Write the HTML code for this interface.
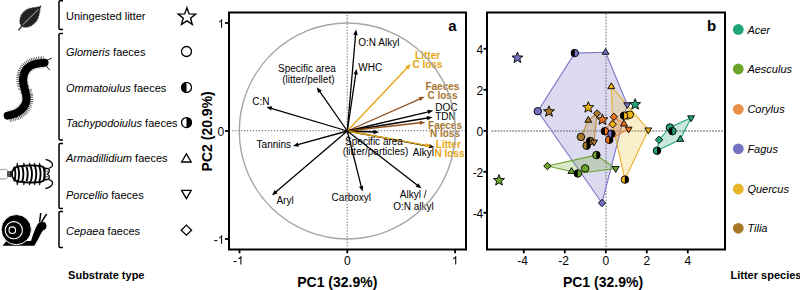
<!DOCTYPE html><html><head><meta charset="utf-8"><style>html,body{margin:0;padding:0;background:#fff;}svg{display:block;}text{font-family:"Liberation Sans", sans-serif;}</style></head><body>
<svg width="800" height="290" viewBox="0 0 800 290">
<rect width="800" height="290" fill="#fff"/>
<path d="M63,0.8 H60.2 Q59,0.8 59,2.0 V28.3 Q59,29.5 60.2,29.5 H63" fill="none" stroke="#000" stroke-width="1.5"/>
<path d="M63,33.5 H60.2 Q59,33.5 59,34.7 V138.8 Q59,140 60.2,140 H63" fill="none" stroke="#000" stroke-width="1.5"/>
<path d="M63,143.5 H60.2 Q59,143.5 59,144.7 V207.3 Q59,208.5 60.2,208.5 H63" fill="none" stroke="#000" stroke-width="1.5"/>
<path d="M63,211.5 H60.2 Q59,211.5 59,212.7 V246.3 Q59,247.5 60.2,247.5 H63" fill="none" stroke="#000" stroke-width="1.5"/>
<text x="66" y="20" font-size="11">Uningested litter</text>
<text x="66" y="56" font-size="11"><tspan font-style="italic">Glomeris</tspan> faeces</text>
<text x="66" y="91.7" font-size="11"><tspan font-style="italic">Ommatoiulus</tspan> faeces</text>
<text x="66" y="127.4" font-size="11"><tspan font-style="italic">Tachypodoiulus</tspan> faeces</text>
<text x="66" y="161.9" font-size="11"><tspan font-style="italic">Armadillidium</tspan> faeces</text>
<text x="66" y="199" font-size="11"><tspan font-style="italic">Porcellio</tspan> faeces</text>
<text x="66" y="235" font-size="11"><tspan font-style="italic">Cepaea</tspan> faeces</text>
<polygon points="186.90,7.85 189.16,13.89 195.60,14.17 190.56,18.19 192.28,24.40 186.90,20.85 181.52,24.40 183.24,18.19 178.20,14.17 184.64,13.89" fill="#fff" stroke="#000" stroke-width="1.4" stroke-linejoin="miter"/>
<circle cx="186.5" cy="51.5" r="5" fill="#fff" stroke="#000" stroke-width="1.3"/>
<circle cx="186.5" cy="87.4" r="5" fill="#fff"/>
<path d="M186.5,82.4 A5,5 0 0 0 186.5,92.4 Z" fill="#000"/>
<circle cx="186.5" cy="87.4" r="5" fill="none" stroke="#000" stroke-width="1.3"/>
<circle cx="186.5" cy="122.6" r="5" fill="#fff"/>
<path d="M186.5,117.6 A5,5 0 0 1 186.5,127.6 Z" fill="#000"/>
<circle cx="186.5" cy="122.6" r="5" fill="none" stroke="#000" stroke-width="1.3"/>
<polygon points="186.4,153.8 191.2,162 181.6,162" fill="#fff" stroke="#000" stroke-width="1.3"/>
<polygon points="186.4,198.6 191.2,190.4 181.6,190.4" fill="#fff" stroke="#000" stroke-width="1.3"/>
<polygon points="186.4,225.1 191.6,230.2 186.4,235.2 181.2,230.2" fill="#fff" stroke="#000" stroke-width="1.3"/>
<text x="106.3" y="278.5" font-size="11" font-weight="bold" text-anchor="middle">Substrate type</text>
<path d="M40.6,6.3 C36,8 30.5,7.4 26.2,10 C21.8,12.8 19.4,18 19.9,22.4 C20.3,25.4 23,27.4 26.4,27.2 C31,26.9 35,23.6 37.3,19.6 C39.5,15.6 39.6,10.4 40.6,6.3 Z" fill="#222"/>
<path d="M40.6,6.3 C36,8 30.5,7.4 26.2,10 C21.8,12.8 19.4,18 19.9,22.4 C20.3,25.4 23,27.4 26.4,27.2 C31,26.9 35,23.6 37.3,19.6 C39.5,15.6 39.6,10.4 40.6,6.3 Z" fill="none" stroke="#222" stroke-width="1.3" stroke-dasharray="0.7 0.9"/>
<path d="M22.3,25.2 L38.6,9.1" fill="none" stroke="#f2f2f2" stroke-width="0.75"/>
<path d="M18.5,30.4 L22.8,24.8" fill="none" stroke="#222" stroke-width="1.3"/>
<path d="M44.6,62.7 C40,62.8 34,63.4 29.5,66.6 C25,69.8 23,75 23,80.5 C23,87 26.6,92 26.6,98.5 C26.6,106 20,114 7.6,115.6" fill="none" stroke="#c4c4c4" stroke-width="11.6" stroke-dasharray="0.5 0.8"/>
<path d="M44.6,62.7 C40,62.8 34,63.4 29.5,66.6 C25,69.8 23,75 23,80.5 C23,84 24,87 24.8,89.5" transform="translate(-1.1,-1.0)" fill="none" stroke="#222" stroke-width="11.2" stroke-dasharray="0.5 1.0"/>
<path d="M24.8,89.5 C25.7,92.3 26.6,95 26.6,98.5 C26.6,106 20,114 7.6,115.6" transform="translate(1.2,1.0)" fill="none" stroke="#222" stroke-width="11.2" stroke-dasharray="0.5 1.0"/>
<path d="M44.6,62.7 C40,62.8 34,63.4 29.5,66.6 C25,69.8 23,75 23,80.5 C23,87 26.6,92 26.6,98.5 C26.6,106 20,114 7.6,115.6" fill="none" stroke="#000" stroke-width="8.0" stroke-linecap="round"/>
<path d="M46.8,60.6 L51.8,58 M46.2,66 L49.8,70.2" stroke="#000" stroke-width="0.9" fill="none"/>
<path d="M-1,169.9 C1.5,169.4 4,169 5.6,169.4 C7,169.8 7.8,170.8 8.2,171.8 M-1,178.7 C1.5,179 4,179.2 5.6,178.8 C7,178.4 7.8,177.4 8.2,176.4" fill="none" stroke="#8a8a8a" stroke-width="0.9"/>
<path d="M7.2,171.6 L11.5,171 L11.5,177.2 L7.2,176.6 Z" fill="#222"/>
<circle cx="9" cy="172.9" r="0.55" fill="#fff"/><circle cx="9" cy="175" r="0.55" fill="#fff"/>
<path d="M12,174 C12,169.5 14.5,167.2 19,166.4 C25,165.4 36,165.4 41,166.1 C43.9,166.6 45.6,169.5 45.6,174 C45.6,178.5 43.9,181.4 41,181.9 C36,182.6 25,182.6 19,181.6 C14.5,180.8 12,178.5 12,174 Z" fill="#fff" stroke="#000" stroke-width="1.7"/>
<path d="M14.2,166.6 Q16.599999999999998,174 14.2,181.4" fill="none" stroke="#000" stroke-width="1.9"/>
<path d="M17.9,166.6 Q20.299999999999997,174 17.9,181.4" fill="none" stroke="#000" stroke-width="1.9"/>
<path d="M22.2,166.6 Q24.599999999999998,174 22.2,181.4" fill="none" stroke="#000" stroke-width="1.9"/>
<path d="M26.5,166.6 Q28.9,174 26.5,181.4" fill="none" stroke="#000" stroke-width="1.9"/>
<path d="M30.8,166.6 Q33.2,174 30.8,181.4" fill="none" stroke="#000" stroke-width="1.9"/>
<path d="M35.1,166.6 Q37.5,174 35.1,181.4" fill="none" stroke="#000" stroke-width="1.9"/>
<path d="M39.4,166.6 Q41.8,174 39.4,181.4" fill="none" stroke="#000" stroke-width="1.9"/>
<path d="M43.3,166.6 Q45.699999999999996,174 43.3,181.4" fill="none" stroke="#000" stroke-width="1.9"/>
<path d="M16.6,166.5 L17.2,162.8 L18.4,166.5 Z" fill="#000" stroke="#000" stroke-width="0.6" stroke-linejoin="round"/>
<path d="M16.6,181.5 L17.2,185.2 L18.4,181.5 Z" fill="#000" stroke="#000" stroke-width="0.6" stroke-linejoin="round"/>
<path d="M23.200000000000003,166.5 L23.8,162.8 L25.0,166.5 Z" fill="#000" stroke="#000" stroke-width="0.6" stroke-linejoin="round"/>
<path d="M23.200000000000003,181.5 L23.8,185.2 L25.0,181.5 Z" fill="#000" stroke="#000" stroke-width="0.6" stroke-linejoin="round"/>
<path d="M29.0,166.5 L29.599999999999998,162.8 L30.799999999999997,166.5 Z" fill="#000" stroke="#000" stroke-width="0.6" stroke-linejoin="round"/>
<path d="M29.0,181.5 L29.599999999999998,185.2 L30.799999999999997,181.5 Z" fill="#000" stroke="#000" stroke-width="0.6" stroke-linejoin="round"/>
<path d="M33.9,166.5 L34.5,162.8 L35.699999999999996,166.5 Z" fill="#000" stroke="#000" stroke-width="0.6" stroke-linejoin="round"/>
<path d="M33.9,181.5 L34.5,185.2 L35.699999999999996,181.5 Z" fill="#000" stroke="#000" stroke-width="0.6" stroke-linejoin="round"/>
<path d="M38.9,166.5 L39.5,162.8 L40.699999999999996,166.5 Z" fill="#000" stroke="#000" stroke-width="0.6" stroke-linejoin="round"/>
<path d="M38.9,181.5 L39.5,185.2 L40.699999999999996,181.5 Z" fill="#000" stroke="#000" stroke-width="0.6" stroke-linejoin="round"/>
<path d="M45,168.4 C46.8,167.9 48.9,168.6 49.3,170.5 C49.5,172 48.5,173.2 47.4,174 C48.5,174.8 49.5,176 49.3,177.5 C48.9,179.4 46.8,180.1 45,179.6 Z" fill="#fff" stroke="#000" stroke-width="1.3"/>
<path d="M48.6,168.3 C50.6,167.7 52.8,166.7 52.5,164.6 C52.2,162.2 48.6,160.2 45.6,159.4 M48.6,179.7 C50.6,180.3 52.8,181.3 52.5,183.4 C52.2,185.8 48.6,187.8 45.4,188.7" fill="none" stroke="#000" stroke-width="1.3"/>
<circle cx="47" cy="171.2" r="0.7" fill="#000"/><circle cx="47" cy="176.8" r="0.7" fill="#000"/>
<path d="M2.5,245.7 L6.5,241 L31,241 C32.5,236 34.8,229 38,223.5 L42,222.2 C44.5,221.8 46.4,223.8 46.4,226 C46.4,228.4 44.6,229.9 42.9,230.4 C40.5,234 38,239.5 35.6,243.6 L34.4,245.7 Z" fill="#000"/>
<circle cx="42.4" cy="226" r="3.9" fill="#000"/>
<path d="M39.6,222.5 L40.7,213 M41.6,222 L46.6,213.8" stroke="#000" stroke-width="1.45" fill="none"/>
<circle cx="16.3" cy="229.6" r="15.1" fill="#000" stroke="#fff" stroke-width="1"/>
<circle cx="13.8" cy="230.2" r="8.6" fill="none" stroke="#fff" stroke-width="1.1"/>
<circle cx="12.3" cy="230.2" r="3.3" fill="none" stroke="#fff" stroke-width="1.1"/>
<line x1="347.2" y1="14.9" x2="347.2" y2="248" stroke="#858585" stroke-width="1.25" stroke-dasharray="1.3 1.65"/>
<line x1="232" y1="130.6" x2="465" y2="130.6" stroke="#858585" stroke-width="1.25" stroke-dasharray="1.3 1.68"/>
<line x1="347.3" y1="131.0" x2="355.57" y2="34.48" stroke="#000" stroke-width="1.3"/><polygon points="356.00,29.50 357.72,35.17 353.34,34.79" fill="#000"/>
<line x1="347.3" y1="131.0" x2="355.77" y2="73.95" stroke="#000" stroke-width="1.3"/><polygon points="356.50,69.00 357.87,74.76 353.52,74.12" fill="#000"/>
<line x1="347.3" y1="131.0" x2="319.66" y2="91.30" stroke="#000" stroke-width="1.3"/><polygon points="316.80,87.20 321.75,90.46 318.14,92.97" fill="#000"/>
<line x1="347.3" y1="131.0" x2="271.19" y2="108.33" stroke="#000" stroke-width="1.3"/><polygon points="266.40,106.90 272.30,106.36 271.04,110.58" fill="#000"/>
<line x1="347.3" y1="131.0" x2="407.16" y2="67.73" stroke="#E6A510" stroke-width="1.3"/><polygon points="410.60,64.10 408.42,69.61 405.22,66.58" fill="#E6A510"/>
<line x1="347.3" y1="131.0" x2="420.03" y2="98.82" stroke="#93501F" stroke-width="1.3"/><polygon points="424.60,96.80 420.46,101.04 418.68,97.01" fill="#93501F"/>
<line x1="347.3" y1="131.0" x2="428.34" y2="111.76" stroke="#000" stroke-width="1.3"/><polygon points="433.20,110.60 428.36,114.01 427.34,109.73" fill="#000"/>
<line x1="347.3" y1="131.0" x2="427.46" y2="118.00" stroke="#000" stroke-width="1.3"/><polygon points="432.40,117.20 427.32,120.25 426.62,115.91" fill="#000"/>
<line x1="347.3" y1="131.0" x2="420.33" y2="122.76" stroke="#93501F" stroke-width="1.3"/><polygon points="425.30,122.20 420.08,125.00 419.59,120.63" fill="#93501F"/>
<line x1="347.3" y1="131.0" x2="374.00" y2="132.01" stroke="#000" stroke-width="1.3"/><polygon points="379.00,132.20 373.42,134.19 373.59,129.79" fill="#000"/>
<line x1="347.3" y1="131.0" x2="429.58" y2="146.29" stroke="#000" stroke-width="1.3"/><polygon points="434.50,147.20 428.69,148.36 429.49,144.03" fill="#000"/>
<line x1="347.3" y1="131.0" x2="426.38" y2="145.31" stroke="#E6A510" stroke-width="1.3"/><polygon points="431.30,146.20 425.50,147.39 426.28,143.06" fill="#E6A510"/>
<line x1="347.3" y1="131.0" x2="297.82" y2="144.67" stroke="#000" stroke-width="1.3"/><polygon points="293.00,146.00 297.72,142.41 298.89,146.66" fill="#000"/>
<line x1="347.3" y1="131.0" x2="275.80" y2="192.05" stroke="#000" stroke-width="1.3"/><polygon points="272.00,195.30 274.75,190.06 277.61,193.40" fill="#000"/>
<line x1="347.3" y1="131.0" x2="361.28" y2="186.65" stroke="#000" stroke-width="1.3"/><polygon points="362.50,191.50 359.03,186.70 363.29,185.63" fill="#000"/>
<line x1="347.3" y1="131.0" x2="417.44" y2="185.24" stroke="#000" stroke-width="1.3"/><polygon points="421.40,188.30 415.70,186.68 418.39,183.20" fill="#000"/>
<text x="358.3" y="45.9" font-size="10" text-anchor="start" font-weight="normal" font-style="normal" fill="#000">O:N Alkyl</text>
<text x="358.3" y="70.7" font-size="10" text-anchor="start" font-weight="normal" font-style="normal" fill="#000">WHC</text>
<text x="306.9" y="71.6" font-size="10" text-anchor="middle" font-weight="normal" font-style="normal" fill="#000">Specific area</text>
<text x="308.4" y="82.6" font-size="10" text-anchor="middle" font-weight="normal" font-style="normal" fill="#000">(litter/pellet)</text>
<text x="252.2" y="105.1" font-size="10" text-anchor="start" font-weight="normal" font-style="normal" fill="#000">C:N</text>
<text x="427.6" y="59.3" font-size="10" text-anchor="middle" font-weight="bold" font-style="normal" fill="#E6A510">Litter</text>
<text x="427.4" y="68.2" font-size="10" text-anchor="middle" font-weight="bold" font-style="normal" fill="#E6A510">C loss</text>
<text x="442.4" y="89.9" font-size="10" text-anchor="middle" font-weight="bold" font-style="normal" fill="#A8752C">Faeces</text>
<text x="442.5" y="99" font-size="10" text-anchor="middle" font-weight="bold" font-style="normal" fill="#A8752C">C loss</text>
<text x="435.2" y="111" font-size="10" text-anchor="start" font-weight="normal" font-style="normal" fill="#000">DOC</text>
<text x="435.2" y="119.6" font-size="10" text-anchor="start" font-weight="normal" font-style="normal" fill="#000">TDN</text>
<text x="445" y="128.5" font-size="10" text-anchor="middle" font-weight="bold" font-style="normal" fill="#A8752C">Faeces</text>
<text x="445" y="137.4" font-size="10" text-anchor="middle" font-weight="bold" font-style="normal" fill="#A8752C">N loss</text>
<text x="374" y="144.6" font-size="10" text-anchor="middle" font-weight="normal" font-style="normal" fill="#000">Specific area</text>
<text x="375.6" y="155.1" font-size="10" text-anchor="middle" font-weight="normal" font-style="normal" fill="#000">(litter/particles)</text>
<text x="448.3" y="148.3" font-size="10" text-anchor="middle" font-weight="bold" font-style="normal" fill="#E6A510">Litter</text>
<text x="449.5" y="157.4" font-size="10" text-anchor="middle" font-weight="bold" font-style="normal" fill="#E6A510">N loss</text>
<text x="412.8" y="156" font-size="10" text-anchor="start" font-weight="normal" font-style="normal" fill="#000">Alkyl</text>
<text x="256.6" y="148.1" font-size="10" text-anchor="start" font-weight="normal" font-style="normal" fill="#000">Tannins</text>
<text x="276.4" y="204.0" font-size="10" text-anchor="start" font-weight="normal" font-style="normal" fill="#000">Aryl</text>
<text x="331.6" y="201.0" font-size="10" text-anchor="start" font-weight="normal" font-style="normal" fill="#000">Carboxyl</text>
<text x="413.2" y="197.9" font-size="10" text-anchor="middle" font-weight="normal" font-style="normal" fill="#000">Alkyl /</text>
<text x="413.5" y="209.5" font-size="10" text-anchor="middle" font-weight="normal" font-style="normal" fill="#000">O:N alkyl</text>
<circle cx="347.3" cy="131.0" r="108" fill="none" stroke="#a6a6a6" stroke-width="1.4"/>
<rect x="229" y="12.5" width="237" height="237" fill="none" stroke="#000" stroke-width="2"/>
<line x1="225" y1="239.0" x2="229" y2="239.0" stroke="#000" stroke-width="1.8"/>
<text x="213.63000000000002" y="243.8" font-size="12" text-anchor="start" font-weight="normal" font-style="normal" fill="#000">-</text><path d="M222.10,243.80 L221.05,243.80 L221.05,237.08 C220.60,237.80 219.63,238.20 218.99,238.45 L218.99,237.43 C220.03,236.95 221.08,236.10 221.47,235.21 L222.10,235.21 Z" fill="#000"/>
<line x1="239.5" y1="249.5" x2="239.5" y2="253.3" stroke="#000" stroke-width="1.8"/>
<text x="232.965" y="264.6" font-size="12" text-anchor="start" font-weight="normal" font-style="normal" fill="#000">-</text><path d="M241.44,264.60 L240.38,264.60 L240.38,257.88 C239.94,258.60 238.97,259.00 238.33,259.25 L238.33,258.23 C239.37,257.75 240.41,256.90 240.81,256.01 L241.44,256.01 Z" fill="#000"/>
<line x1="225" y1="131.0" x2="229" y2="131.0" stroke="#000" stroke-width="1.8"/>
<text x="224.3" y="135.8" font-size="12" text-anchor="end" font-weight="normal" font-style="normal" fill="#000">0</text>
<line x1="347.3" y1="249.5" x2="347.3" y2="253.3" stroke="#000" stroke-width="1.8"/>
<text x="347.3" y="264.6" font-size="12" text-anchor="middle" font-weight="normal" font-style="normal" fill="#000">0</text>
<line x1="225" y1="23.0" x2="229" y2="23.0" stroke="#000" stroke-width="1.8"/>
<path d="M222.10,27.80 L221.05,27.80 L221.05,21.08 C220.60,21.80 219.63,22.20 218.99,22.45 L218.99,21.43 C220.03,20.95 221.08,20.10 221.47,19.21 L222.10,19.21 Z" fill="#000"/>
<line x1="455.1" y1="249.5" x2="455.1" y2="253.3" stroke="#000" stroke-width="1.8"/>
<path d="M456.24,264.60 L455.19,264.60 L455.19,257.88 C454.74,258.60 453.77,259.00 453.13,259.25 L453.13,258.23 C454.17,257.75 455.22,256.90 455.61,256.01 L456.24,256.01 Z" fill="#000"/>
<text x="452.5" y="31.2" font-size="15" text-anchor="middle" font-weight="bold" font-style="normal" fill="#000">a</text>
<text x="337.3" y="287" font-size="14" text-anchor="middle" font-weight="bold" font-style="normal" fill="#000">PC1 (32.9%)</text>
<text transform="translate(211.5,131.3) rotate(-90)" font-size="14" font-weight="bold" text-anchor="middle">PC2 (20.9%)</text>
<svg x="488" y="13.5" width="236" height="235" viewBox="488 13.5 236 235" overflow="hidden">
<line x1="606" y1="13.4" x2="606" y2="248" stroke="#ababab" stroke-width="1.8" stroke-dasharray="1.6 1.45"/>
<line x1="491.5" y1="131" x2="724" y2="131" stroke="#ababab" stroke-width="1.8" stroke-dasharray="1.8 1.18"/>
<polygon points="574.8,53.1 605.6,52.300000000000004 627.3,104.7 602,203 537.8,111.2" fill="#7471C0" fill-opacity="0.26" stroke="#7B76C8" stroke-width="1.1" stroke-linejoin="round"/>
<polygon points="611.3,86.69999999999999 648.3,129.9 624.9,179.6 612.7,124.3" fill="#EBB414" fill-opacity="0.22" stroke="#E8B02A" stroke-width="1.1" stroke-linejoin="round"/>
<polygon points="588.3,120.3 597.1,113.5 594,142.0 586.6,145.7 580.9,136.9" fill="#C49A5A" fill-opacity="0.35" stroke="#BC8A35" stroke-width="1.1" stroke-linejoin="round"/>
<polygon points="613.9,116.8 624,124.0 628.6,129.1 609.2,139.8 604.9,131.2" fill="#E8731E" fill-opacity="0.25" stroke="#E8803A" stroke-width="1.1" stroke-linejoin="round"/>
<polygon points="547.4,166 596.4,155.1 615.7,168.5 577.8,173.5 571.5,171.5" fill="#6CA42A" fill-opacity="0.25" stroke="#6CA42A" stroke-width="1.1" stroke-linejoin="round"/>
<polygon points="691.1,117.80000000000001 680.3,139.4 657,150.7 659,139.8 669.9,127.5" fill="#22A47A" fill-opacity="0.25" stroke="#22A47A" stroke-width="1.1" stroke-linejoin="round"/>
<polygon points="517.40,52.10 518.87,55.88 522.92,56.11 519.78,58.67 520.81,62.59 517.40,60.40 513.99,62.59 515.02,58.67 511.88,56.11 515.93,55.88" fill="#7471C0" stroke="#000" stroke-width="0.9" stroke-linejoin="round"/>
<circle cx="574.8" cy="53.1" r="3.75" fill="#7471C0"/><path d="M574.8,49.35 A3.75,3.75 0 0 0 574.8,56.85 Z" fill="#000"/><circle cx="574.8" cy="53.1" r="3.75" fill="none" stroke="#000" stroke-width="0.9"/>
<polygon points="605.6,48.40 609.05,54.25 602.15,54.25" fill="#7471C0" stroke="#000" stroke-width="0.9" stroke-linejoin="round"/>
<circle cx="537.8" cy="111.2" r="3.75" fill="#7471C0" stroke="#000" stroke-width="0.9"/>
<polygon points="627.3,108.60 630.75,102.75 623.85,102.75" fill="#7471C0" stroke="#000" stroke-width="0.9" stroke-linejoin="round"/>
<polygon points="602,199.30 605.70,203 602,206.70 598.30,203" fill="#7471C0" stroke="#000" stroke-width="0.9" stroke-linejoin="round"/>
<polygon points="499.00,174.60 500.47,178.38 504.52,178.61 501.38,181.17 502.41,185.09 499.00,182.90 495.59,185.09 496.62,181.17 493.48,178.61 497.53,178.38" fill="#6CA42A" stroke="#000" stroke-width="0.9" stroke-linejoin="round"/>
<polygon points="547.4,162.30 551.10,166 547.4,169.70 543.70,166" fill="#6CA42A" stroke="#000" stroke-width="0.9" stroke-linejoin="round"/>
<circle cx="596.4" cy="155.1" r="3.75" fill="#6CA42A"/><path d="M596.4,151.35 A3.75,3.75 0 0 1 596.4,158.85 Z" fill="#000"/><circle cx="596.4" cy="155.1" r="3.75" fill="none" stroke="#000" stroke-width="0.9"/>
<circle cx="585.1" cy="168.4" r="3.75" fill="#6CA42A" stroke="#000" stroke-width="0.9"/>
<polygon points="571.5,167.60 574.95,173.45 568.05,173.45" fill="#6CA42A" stroke="#000" stroke-width="0.9" stroke-linejoin="round"/>
<circle cx="577.8" cy="173.5" r="3.75" fill="#6CA42A"/><path d="M577.8,169.75 A3.75,3.75 0 0 0 577.8,177.25 Z" fill="#000"/><circle cx="577.8" cy="173.5" r="3.75" fill="none" stroke="#000" stroke-width="0.9"/>
<polygon points="615.7,172.40 619.15,166.55 612.25,166.55" fill="#6CA42A" stroke="#000" stroke-width="0.9" stroke-linejoin="round"/>
<polygon points="549.00,105.80 550.47,109.58 554.52,109.81 551.38,112.37 552.41,116.29 549.00,114.10 545.59,116.29 546.62,112.37 543.48,109.81 547.53,109.58" fill="#A8782A" stroke="#000" stroke-width="0.9" stroke-linejoin="round"/>
<polygon points="588.3,116.40 591.75,122.25 584.85,122.25" fill="#A8782A" stroke="#000" stroke-width="0.9" stroke-linejoin="round"/>
<polygon points="597.1,109.80 600.80,113.5 597.1,117.20 593.40,113.5" fill="#A8782A" stroke="#000" stroke-width="0.9" stroke-linejoin="round"/>
<circle cx="580.9" cy="136.9" r="3.75" fill="#A8782A" stroke="#000" stroke-width="0.9"/>
<circle cx="590.2" cy="141" r="3.75" fill="#A8782A"/><path d="M590.2,137.25 A3.75,3.75 0 0 0 590.2,144.75 Z" fill="#000"/><circle cx="590.2" cy="141" r="3.75" fill="none" stroke="#000" stroke-width="0.9"/>
<circle cx="586.6" cy="145.7" r="3.75" fill="#A8782A"/><path d="M586.6,141.95 A3.75,3.75 0 0 1 586.6,149.45 Z" fill="#000"/><circle cx="586.6" cy="145.7" r="3.75" fill="none" stroke="#000" stroke-width="0.9"/>
<polygon points="594,145.90 597.45,140.05 590.55,140.05" fill="#A8782A" stroke="#000" stroke-width="0.9" stroke-linejoin="round"/>
<polygon points="588.30,101.70 589.77,105.48 593.82,105.71 590.68,108.27 591.71,112.19 588.30,110.00 584.89,112.19 585.92,108.27 582.78,105.71 586.83,105.48" fill="#EBB414" stroke="#000" stroke-width="0.9" stroke-linejoin="round"/>
<polygon points="611.3,82.80 614.75,88.65 607.85,88.65" fill="#EBB414" stroke="#000" stroke-width="0.9" stroke-linejoin="round"/>
<polygon points="648.3,133.80 651.75,127.95 644.85,127.95" fill="#EBB414" stroke="#000" stroke-width="0.9" stroke-linejoin="round"/>
<circle cx="624.9" cy="179.6" r="3.75" fill="#EBB414"/><path d="M624.9,175.85 A3.75,3.75 0 0 1 624.9,183.35 Z" fill="#000"/><circle cx="624.9" cy="179.6" r="3.75" fill="none" stroke="#000" stroke-width="0.9"/>
<circle cx="627.4" cy="115.4" r="3.75" fill="#EBB414" stroke="#000" stroke-width="0.9"/>
<circle cx="629.8" cy="114.7" r="3.75" fill="#EBB414" stroke="#000" stroke-width="0.9"/>
<circle cx="624" cy="115.7" r="3.75" fill="#EBB414"/><path d="M624,111.95 A3.75,3.75 0 0 0 624,119.45 Z" fill="#000"/><circle cx="624" cy="115.7" r="3.75" fill="none" stroke="#000" stroke-width="0.9"/>
<polygon points="612.7,120.60 616.40,124.3 612.7,128.00 609.00,124.3" fill="#EBB414" stroke="#000" stroke-width="0.9" stroke-linejoin="round"/>
<polygon points="602.40,113.90 603.87,117.68 607.92,117.91 604.78,120.47 605.81,124.39 602.40,122.20 598.99,124.39 600.02,120.47 596.88,117.91 600.93,117.68" fill="#E8731E" stroke="#000" stroke-width="0.9" stroke-linejoin="round"/>
<polygon points="613.9,113.10 617.60,116.8 613.9,120.50 610.20,116.8" fill="#E8731E" stroke="#000" stroke-width="0.9" stroke-linejoin="round"/>
<polygon points="624,120.10 627.45,125.95 620.55,125.95" fill="#E8731E" stroke="#000" stroke-width="0.9" stroke-linejoin="round"/>
<polygon points="628.6,133.00 632.05,127.15 625.15,127.15" fill="#E8731E" stroke="#000" stroke-width="0.9" stroke-linejoin="round"/>
<circle cx="604.9" cy="131.2" r="3.75" fill="#E8731E"/><path d="M604.9,127.45 A3.75,3.75 0 0 0 604.9,134.95 Z" fill="#000"/><circle cx="604.9" cy="131.2" r="3.75" fill="none" stroke="#000" stroke-width="0.9"/>
<circle cx="609.2" cy="139.8" r="3.75" fill="#E8731E"/><path d="M609.2,136.05 A3.75,3.75 0 0 1 609.2,143.55 Z" fill="#000"/><circle cx="609.2" cy="139.8" r="3.75" fill="none" stroke="#000" stroke-width="0.9"/>
<circle cx="611.4" cy="133.8" r="3.75" fill="#7471C0"/><path d="M611.4,130.05 A3.75,3.75 0 0 1 611.4,137.55 Z" fill="#000"/><circle cx="611.4" cy="133.8" r="3.75" fill="none" stroke="#000" stroke-width="0.9"/>
<polygon points="635.10,98.70 636.57,102.48 640.62,102.71 637.48,105.27 638.51,109.19 635.10,107.00 631.69,109.19 632.72,105.27 629.58,102.71 633.63,102.48" fill="#22A47A" stroke="#000" stroke-width="0.9" stroke-linejoin="round"/>
<polygon points="691.1,121.70 694.55,115.85 687.65,115.85" fill="#22A47A" stroke="#000" stroke-width="0.9" stroke-linejoin="round"/>
<circle cx="669.9" cy="127.5" r="3.75" fill="#22A47A" stroke="#000" stroke-width="0.9"/>
<circle cx="672.4" cy="131.2" r="3.75" fill="#22A47A"/><path d="M672.4,127.45 A3.75,3.75 0 0 0 672.4,134.95 Z" fill="#000"/><circle cx="672.4" cy="131.2" r="3.75" fill="none" stroke="#000" stroke-width="0.9"/>
<polygon points="680.3,135.50 683.75,141.35 676.85,141.35" fill="#22A47A" stroke="#000" stroke-width="0.9" stroke-linejoin="round"/>
<polygon points="659,136.10 662.70,139.8 659,143.50 655.30,139.8" fill="#22A47A" stroke="#000" stroke-width="0.9" stroke-linejoin="round"/>
<circle cx="657" cy="150.7" r="3.75" fill="#22A47A"/><path d="M657,146.95 A3.75,3.75 0 0 1 657,154.45 Z" fill="#000"/><circle cx="657" cy="150.7" r="3.75" fill="none" stroke="#000" stroke-width="0.9"/>
</svg>
<rect x="487" y="12.5" width="238" height="237" fill="none" stroke="#000" stroke-width="2"/>
<line x1="483.5" y1="212.8" x2="487" y2="212.8" stroke="#000" stroke-width="1.8"/>
<text x="483.3" y="217.5" font-size="12" text-anchor="end" font-weight="normal" font-style="normal" fill="#000">-4</text>
<line x1="523.8" y1="249.5" x2="523.8" y2="253.3" stroke="#000" stroke-width="1.8"/>
<text x="522.5999999999999" y="264.6" font-size="12" text-anchor="middle" font-weight="normal" font-style="normal" fill="#000">-4</text>
<line x1="483.5" y1="171.8" x2="487" y2="171.8" stroke="#000" stroke-width="1.8"/>
<text x="483.3" y="176.5" font-size="12" text-anchor="end" font-weight="normal" font-style="normal" fill="#000">-2</text>
<line x1="564.8" y1="249.5" x2="564.8" y2="253.3" stroke="#000" stroke-width="1.8"/>
<text x="563.5999999999999" y="264.6" font-size="12" text-anchor="middle" font-weight="normal" font-style="normal" fill="#000">-2</text>
<line x1="483.5" y1="130.8" x2="487" y2="130.8" stroke="#000" stroke-width="1.8"/>
<text x="483.3" y="135.5" font-size="12" text-anchor="end" font-weight="normal" font-style="normal" fill="#000">0</text>
<line x1="605.8" y1="249.5" x2="605.8" y2="253.3" stroke="#000" stroke-width="1.8"/>
<text x="605.8" y="264.6" font-size="12" text-anchor="middle" font-weight="normal" font-style="normal" fill="#000">0</text>
<line x1="483.5" y1="89.80000000000001" x2="487" y2="89.80000000000001" stroke="#000" stroke-width="1.8"/>
<text x="483.3" y="94.50000000000001" font-size="12" text-anchor="end" font-weight="normal" font-style="normal" fill="#000">2</text>
<line x1="646.8" y1="249.5" x2="646.8" y2="253.3" stroke="#000" stroke-width="1.8"/>
<text x="646.8" y="264.6" font-size="12" text-anchor="middle" font-weight="normal" font-style="normal" fill="#000">2</text>
<line x1="483.5" y1="48.80000000000001" x2="487" y2="48.80000000000001" stroke="#000" stroke-width="1.8"/>
<text x="483.3" y="53.500000000000014" font-size="12" text-anchor="end" font-weight="normal" font-style="normal" fill="#000">4</text>
<line x1="687.8" y1="249.5" x2="687.8" y2="253.3" stroke="#000" stroke-width="1.8"/>
<text x="687.8" y="264.6" font-size="12" text-anchor="middle" font-weight="normal" font-style="normal" fill="#000">4</text>
<text x="711.5" y="31.2" font-size="15" text-anchor="middle" font-weight="bold" font-style="normal" fill="#000">b</text>
<text x="603" y="287" font-size="14" text-anchor="middle" font-weight="bold" font-style="normal" fill="#000">PC1 (32.9%)</text>
<circle cx="738.3" cy="29.5" r="5.4" fill="#22A47A"/>
<text x="747.4" y="33.5" font-size="11" font-style="italic">Acer</text>
<circle cx="738.3" cy="69" r="5.4" fill="#6CA42A"/>
<text x="747.4" y="73" font-size="11" font-style="italic">Aesculus</text>
<circle cx="738.3" cy="109.3" r="5.4" fill="#E8904A"/>
<text x="747.4" y="113.3" font-size="11" font-style="italic">Corylus</text>
<circle cx="738.3" cy="148.8" r="5.4" fill="#7471C0"/>
<text x="747.4" y="152.8" font-size="11" font-style="italic">Fagus</text>
<circle cx="738.3" cy="189" r="5.4" fill="#E8B52A"/>
<text x="747.4" y="193" font-size="11" font-style="italic">Quercus</text>
<circle cx="738.3" cy="228.3" r="5.4" fill="#A8782A"/>
<text x="747.4" y="232.3" font-size="11" font-style="italic">Tilia</text>
<text x="730.5" y="278.5" font-size="11" font-weight="bold">Litter species</text>
</svg></body></html>
